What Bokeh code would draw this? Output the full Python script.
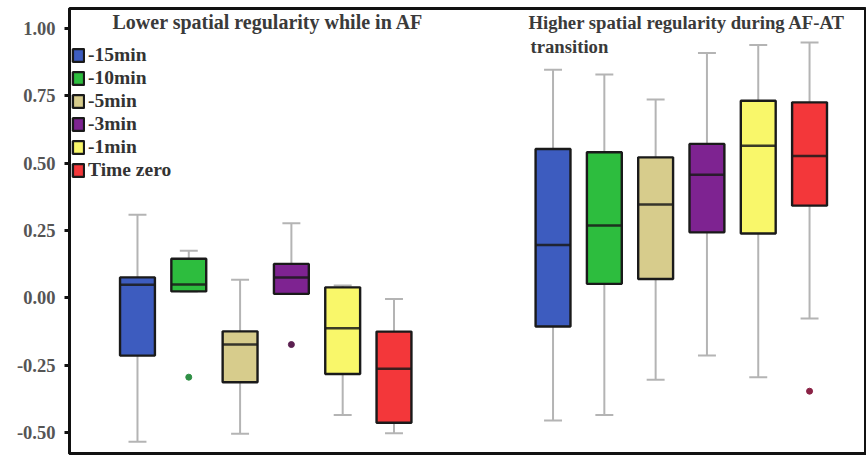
from bokeh.plotting import figure
from bokeh.models import (ColumnDataSource, Range1d, LinearAxis, FixedTicker, Legend,
                          LegendItem, Label, NumeralTickFormatter)
from bokeh.embed import file_html
from bokeh.resources import INLINE

# ---------------- data ----------------
categories = ["-15min", "-10min", "-5min", "-3min", "-1min", "Time zero"]
colors = ["#3d5cbf", "#2dbd3e", "#d7cc8c", "#7e2391", "#f9f76a", "#f3373a"]

group_titles = ["Lower spatial regularity while in AF",
                "Higher spatial regularity during AF-AT", "transition"]

# group 1: lower spatial regularity while in AF
low_whisker_lo = [-0.533, 0.024, -0.504, 0.015, -0.434, -0.502]
low_q1 = [-0.214, 0.024, -0.313, 0.015, -0.282, -0.463]
low_median = [0.049, 0.050, -0.173, 0.076, -0.113, -0.263]
low_q3 = [0.076, 0.145, -0.124, 0.126, 0.039, -0.125]
low_whisker_hi = [0.308, 0.175, 0.067, 0.277, 0.046, -0.004]
low_outlier_idx = [1, 3]
low_outlier_val = [-0.294, -0.173]

# group 2: higher spatial regularity during AF-AT transition
high_whisker_lo = [-0.455, -0.434, -0.304, -0.214, -0.294, -0.076]
high_q1 = [-0.106, 0.052, 0.070, 0.243, 0.239, 0.342]
high_median = [0.196, 0.268, 0.346, 0.457, 0.564, 0.526]
high_q3 = [0.552, 0.540, 0.521, 0.571, 0.731, 0.725]
high_whisker_hi = [0.846, 0.828, 0.736, 0.908, 0.938, 0.947]
high_outlier_idx = [5]
high_outlier_val = [-0.346]

low_outlier_colors = ["#2f8f45", "#5b2050"]
high_outlier_colors = ["#8a2245"]

y_ticks = [-0.5, -0.25, 0.0, 0.25, 0.5, 0.75, 1.0]

# ---------------- layout params ----------------
group_offsets = [1.0, 9.1]
box_w = 0.68
cap_w = 0.35
FONT = "Liberation Serif"
Y0, Y1 = -0.577, 1.073

p = figure(width=866, height=457, output_backend="svg", toolbar_location=None,
           x_range=Range1d(-0.325, 15.21), y_range=Range1d(Y0, Y1),
           x_axis_location=None, min_border_left=69, min_border_right=0,
           min_border_top=8, min_border_bottom=4)
p.grid.visible = False
p.outline_line_color = "#111111"
p.outline_line_width = 3
p.background_fill_color = "white"
p.border_fill_color = "white"

yax = p.yaxis[0]
yax.ticker = FixedTicker(ticks=y_ticks)
yax.formatter = NumeralTickFormatter(format="0.00")
yax.axis_line_width = 3
yax.axis_line_color = "#111111"
yax.major_tick_line_width = 3
yax.major_tick_line_color = "#111111"
yax.major_tick_out = 5
yax.major_tick_in = 0
yax.minor_tick_line_color = None
yax.major_label_standoff = 9
yax.major_label_text_font = FONT
yax.major_label_text_font_style = "bold"
yax.major_label_text_font_size = "18.5px"
yax.major_label_text_color = "#555555"

bax = LinearAxis(ticker=FixedTicker(ticks=[]), major_label_text_font_size="0px",
                 major_tick_out=0, major_tick_in=0, minor_tick_out=0, minor_tick_in=0,
                 axis_line_width=3, axis_line_color="#111111", major_label_standoff=0)
p.add_layout(bax, "below")

groups = [
    (low_whisker_lo, low_q1, low_median, low_q3, low_whisker_hi, low_outlier_idx, low_outlier_val, low_outlier_colors),
    (high_whisker_lo, high_q1, high_median, high_q3, high_whisker_hi, high_outlier_idx, high_outlier_val, high_outlier_colors),
]

box_renderers = []
for g, (wlo, q1, med, q3, whi, oidx, oval, ocol) in enumerate(groups):
    xs = [group_offsets[g] + i for i in range(len(categories))]
    src = ColumnDataSource(dict(
        x=xs, wlo=wlo, q1=q1, med=med, q3=q3, whi=whi, color=colors,
        cx0=[x - cap_w / 2 for x in xs], cx1=[x + cap_w / 2 for x in xs],
        mx0=[x - box_w / 2 for x in xs], mx1=[x + box_w / 2 for x in xs],
    ))
    wc = "#b4b4b4"
    p.segment(x0="x", y0="wlo", x1="x", y1="q1", source=src, line_color=wc, line_width=2)
    p.segment(x0="x", y0="q3", x1="x", y1="whi", source=src, line_color=wc, line_width=2)
    p.segment(x0="cx0", y0="wlo", x1="cx1", y1="wlo", source=src, line_color=wc, line_width=2)
    p.segment(x0="cx0", y0="whi", x1="cx1", y1="whi", source=src, line_color=wc, line_width=2)
    r = p.vbar(x="x", width=box_w, top="q3", bottom="q1", source=src,
               fill_color="color", line_color="#1a1a1a", line_width=2.4)
    box_renderers.append(r)
    p.segment(x0="mx0", y0="med", x1="mx1", y1="med", source=src,
              line_color="#1a1a1a", line_width=2.5, line_alpha=0.85)
    osrc = ColumnDataSource(dict(x=[group_offsets[g] + i for i in oidx], y=oval, c=ocol))
    p.scatter(x="x", y="y", source=osrc, size=6, color="c")

legend = Legend(
    items=[LegendItem(label=categories[i], renderers=[box_renderers[0]], index=i)
           for i in range(len(categories))],
    location=(2, 272), glyph_width=14, glyph_height=16, label_height=23, spacing=0,
    padding=0, margin=0, border_line_color=None, background_fill_alpha=0,
    label_text_font=FONT, label_text_font_style="bold", label_text_font_size="19.5px",
    label_text_color="#333333", label_standoff=3)
p.add_layout(legend)

title_style = dict(text_font=FONT, text_font_style="bold",
                   text_color="#3a3a3a", text_baseline="middle", text_align="left")
p.add_layout(Label(x=0.513, y=1.024, text=group_titles[0], text_font_size="20px", **title_style))
p.add_layout(Label(x=8.62, y=1.021, text=group_titles[1], text_font_size="18.7px", **title_style))
p.add_layout(Label(x=8.66, y=0.933, text=group_titles[2], text_font_size="18.7px", **title_style))

open("out.html", "w").write(file_html(p, INLINE))
